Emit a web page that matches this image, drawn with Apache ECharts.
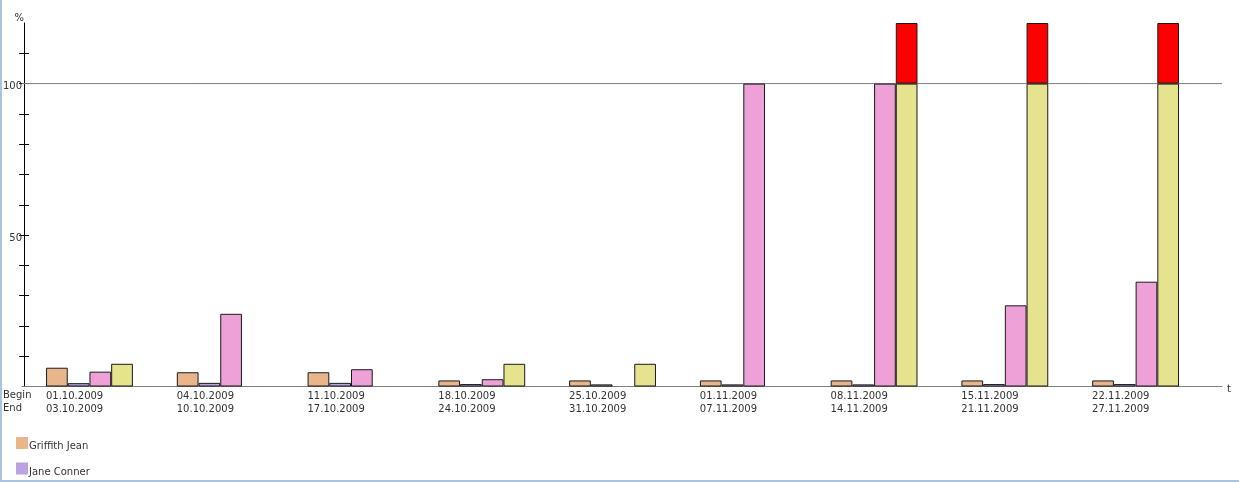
<!DOCTYPE html>
<html>
<head>
<meta charset="utf-8">
<script src="https://cdn.jsdelivr.net/npm/echarts@6/dist/echarts.min.js"></script>
<style>
  html, body { margin: 0; padding: 0; background: #fff; }
  #chart { width: 1239px; height: 482px; }
  #frame { position: absolute; left: 0; top: 0; width: 1239px; height: 482px; box-sizing: border-box;
           border-left: 2px solid #a9c3e0; border-bottom: 2px solid #a9c3e0; pointer-events: none; }
</style>
</head>
<body>
<div id="chart"></div>
<div id="frame"></div>
<script>
const beginDates = ['01.10.2009','04.10.2009','11.10.2009','18.10.2009','25.10.2009','01.11.2009','08.11.2009','15.11.2009','22.11.2009'];
const endDates   = ['03.10.2009','10.10.2009','17.10.2009','24.10.2009','31.10.2009','07.11.2009','14.11.2009','21.11.2009','27.11.2009'];
const griffithJean = [6.2, 4.7, 4.7, 2.0, 2.0, 2.0, 2.0, 2.0, 2.0];
const janeConner   = [1.1, 1.2, 1.2, 0.8, 0.7, 0.7, 0.7, 0.8, 0.8];
const series3      = [4.9, 24.0, 5.7, 2.4, null, 100, 100, 26.8, 34.6];
const series4      = [7.5, null, null, 7.5, 7.5, null, 100, 100, 100];
const overLimit    = [null, null, null, null, null, null, 20, 20, 20];
const yTickValues  = [10, 20, 30, 40, 50, 60, 70, 80, 90, 100, 110];
const yLabelValues = [50, 100];
const limitLine    = [[0, 100], [1, 100]];

const categories = beginDates.map((b, i) => b + '\n' + endDates[i]);
const FONT = 'DejaVu Sans';
const TXT = '#333';

const barBase = {
  type: 'bar', xAxisIndex: 0, yAxisIndex: 0,
  barGap: '0%', barCategoryGap: '33.6%'
};
function bar(name, data, color, stack) {
  const s = Object.assign({}, barBase, {
    name: name, data: data,
    itemStyle: { color: color, borderColor: '#1a1a1a', borderWidth: 1 }
  });
  if (stack) s.stack = stack;
  return s;
}

const chart = echarts.init(document.getElementById('chart'));
chart.setOption({
  animation: false,
  textStyle: { fontFamily: FONT },
  title: {
    text: 'Begin\nEnd', left: 3, top: 389, padding: 0,
    textStyle: { fontSize: 10, fontWeight: 'normal', color: TXT, fontFamily: FONT, lineHeight: 13 }
  },
  legend: {
    data: ['Griffith Jean', 'Jane Conner'],
    orient: 'vertical', left: 16, top: 437, padding: 0,
    itemWidth: 12, itemHeight: 12, itemGap: 11, icon: 'rect',
    itemStyle: { borderWidth: 0 },
    formatter: n => '{l|' + n + '}',
    textStyle: {
      fontSize: 10, color: TXT, fontFamily: FONT, padding: [0, 0, 0, -4],
      rich: { l: { fontSize: 10, color: TXT, fontFamily: FONT, padding: [7, 0, 0, 0] } }
    }
  },
  grid: [
    { left: 22, top: 23, width: 1179, bottom: 95.5 },
    { left: 22, top: 23, right: 17, bottom: 95.5 }
  ],
  xAxis: [
    {
      type: 'category', gridIndex: 0, data: categories,
      axisLine: { show: false }, axisTick: { show: false },
      axisLabel: {
        margin: 3, color: TXT, fontSize: 10, fontFamily: FONT, lineHeight: 13,
        formatter: v => v.split('\n').map(s => '{a|' + s + '}').join('\n'),
        rich: { a: { width: 87, align: 'left', fontSize: 10, fontFamily: FONT, color: TXT, lineHeight: 13 } }
      }
    },
    {
      type: 'value', gridIndex: 1, min: 0, max: 1,
      axisLine: { show: true, lineStyle: { color: '#7f7f7f', width: 1 } },
      axisTick: { show: false }, axisLabel: { show: false }, splitLine: { show: false },
      name: '{n|t}', nameLocation: 'end', nameGap: 5,
      nameTextStyle: {
        fontSize: 10, color: TXT, fontFamily: FONT,
        rich: { n: { fontSize: 10, color: TXT, fontFamily: FONT, padding: [5, 0, 0, 0] } }
      }
    }
  ],
  yAxis: [
    {
      type: 'value', gridIndex: 0, min: 0, max: 120, interval: 10,
      axisLine: { show: true, lineStyle: { color: '#000', width: 1 } },
      axisTick: { show: true, length: 5, lineStyle: { color: '#000' }, customValues: yTickValues },
      axisLabel: {
        margin: 2, color: TXT, fontSize: 10, fontFamily: FONT, customValues: yLabelValues,
        formatter: v => '{v|' + v + '}',
        rich: { v: { fontSize: 10, color: TXT, fontFamily: FONT, padding: [6, 0, 0, 0] } }
      },
      splitLine: { show: false },
      name: '%', nameLocation: 'end', nameGap: 0,
      nameTextStyle: { fontSize: 10, color: TXT, fontFamily: FONT, align: 'right', verticalAlign: 'bottom' }
    },
    {
      type: 'value', gridIndex: 1, min: 0, max: 120, show: false
    },
    {
      type: 'value', gridIndex: 0, min: 0, max: 120, interval: 10, position: 'left',
      axisLine: { show: false },
      axisTick: { show: true, inside: true, length: 5, lineStyle: { color: '#000' }, customValues: yTickValues },
      axisLabel: { show: false }, splitLine: { show: false }
    }
  ],
  series: [
    {
      name: 'limit', type: 'line', xAxisIndex: 1, yAxisIndex: 1, data: limitLine,
      symbol: 'none', silent: true, z: 1,
      lineStyle: { color: '#7f7f7f', width: 1 }
    },
    bar('Griffith Jean', griffithJean, '#e9b68c'),
    bar('Jane Conner', janeConner, '#b9a3e1'),
    bar('Series 3', series3, '#eda1d6'),
    bar('Series 4', series4, '#e6e38f', 'top'),
    bar('Over 100%', overLimit, '#ff0000', 'top')
  ]
});
</script>
</body>
</html>
